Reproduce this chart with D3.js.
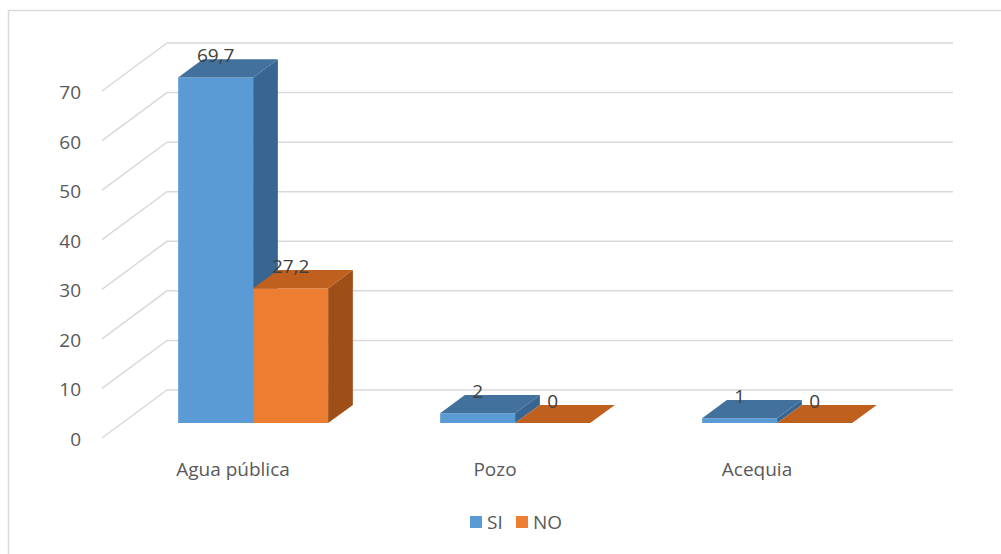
<!DOCTYPE html>
<html>
<head>
<meta charset="utf-8">
<script src="https://cdn.jsdelivr.net/npm/d3@7"></script>
<style>
  html, body { margin: 0; padding: 0; background: #fff; }
  svg { display: block; font-family: "Open Sans", "Liberation Sans", sans-serif; }
</style>
</head>
<body>
<svg id="chart" width="1001" height="554"></svg>
<script>
// chart data
const categories = ["Agua pública", "Pozo", "Acequia"];
const seriesNames = ["SI", "NO"];
const siValues = [69.7, 2, 1];
const noValues = [27.2, 0, 0];
const yTicks = [0, 10, 20, 30, 40, 50, 60, 70];
const valueLabels = { SI: ["69,7", "2", "1"], NO: ["27,2", "0", "0"] };

const colors = {
  SI: { front: "#5B9BD5", top: "#41719C", side: "#386592" },
  NO: { front: "#ED7D31", top: "#C0601F", side: "#9E4F18" },
  grid: "#D9D9D9",
  text: "#595959",
  label: "#404040"
};

const svg = d3.select("#chart");

// 3D projection: depth 0 = front of floor, depth 1 = back wall
const floorFront = 438;
const depthDX = 65;
const depthDY = -48;
const barDepth = [0.31, 0.69];

const x = d3.scaleBand().domain(categories).range([102, 888]);
const y = d3.scaleLinear().domain([0, 70]).range([0, 347]);
const xSeries = d3.scaleBand().domain(seriesNames).range([0, 150]);

const project = (px, v, d) => [px + d * depthDX, floorFront - y(v) + d * depthDY];

// outer border (only left and top visible in the original)
svg.append("rect")
  .attr("x", 8.5).attr("y", 10.5)
  .attr("width", 1100).attr("height", 700)
  .attr("fill", "none")
  .attr("stroke", "#D9D9D9")
  .attr("stroke-width", 1.5);

// gridlines: side wall diagonal + back wall line
const grid = svg.append("g").attr("class", "grid");
yTicks.forEach((t) => {
  const a = project(x.range()[0], t, 0);
  const b = project(x.range()[0], t, 1);
  const c = project(x.range()[1], t, 1);
  grid.append("path")
    .attr("d", d3.line()([a, b, c]))
    .attr("fill", "none")
    .attr("stroke", colors.grid)
    .attr("stroke-width", 1.5);
});

// y axis labels
svg.append("g")
  .selectAll("text")
  .data(yTicks)
  .join("text")
  .attr("x", 81)
  .attr("y", (d) => project(0, d, 0)[1] + 1)
  .attr("text-anchor", "end")
  .attr("dominant-baseline", "central")
  .attr("font-size", 19)
  .attr("fill", colors.text)
  .text((d) => d);

// category labels
svg.append("g")
  .selectAll("text")
  .data(categories)
  .join("text")
  .attr("x", (d) => x(d) + x.bandwidth() / 2)
  .attr("y", 469)
  .attr("text-anchor", "middle")
  .attr("dominant-baseline", "central")
  .attr("font-size", 19)
  .attr("fill", colors.text)
  .text((d) => d);

// bars
const barData = categories.flatMap((c, i) => [
  { cat: c, series: "SI", value: siValues[i], label: valueLabels.SI[i] },
  { cat: c, series: "NO", value: noValues[i], label: valueLabels.NO[i] }
]);

const bars = svg.append("g").attr("class", "bars");
const poly = (pts) => "M" + pts.map((p) => p.join(",")).join("L") + "Z";

barData.forEach((d) => {
  const x0 = x(d.cat) + x.bandwidth() / 2 - 75 + xSeries(d.series);
  const x1 = x0 + xSeries.bandwidth();
  const [dz0, dz1] = barDepth;
  const g = bars.append("g");
  const col = colors[d.series];

  if (d.value > 0) {
    // front face
    g.append("path")
      .attr("d", poly([project(x0, 0, dz0), project(x1, 0, dz0), project(x1, d.value, dz0), project(x0, d.value, dz0)]))
      .attr("fill", col.front);
    // right side
    g.append("path")
      .attr("d", poly([project(x1, 0, dz0), project(x1, 0, dz1), project(x1, d.value, dz1), project(x1, d.value, dz0)]))
      .attr("fill", col.side);
  }
  // top face
  g.append("path")
    .attr("d", poly([project(x0, d.value, dz0), project(x1, d.value, dz0), project(x1, d.value, dz1), project(x0, d.value, dz1)]))
    .attr("fill", col.top);
});

// value labels
barData.forEach((d) => {
  const x0 = x(d.cat) + x.bandwidth() / 2 - 75 + xSeries(d.series);
  const cx = project(x0 + xSeries.bandwidth() / 2, d.value, barDepth[0])[0];
  const ty = project(0, d.value, barDepth[1])[1];
  svg.append("text")
    .attr("x", cx)
    .attr("y", ty - 4)
    .attr("text-anchor", "middle")
    .attr("dominant-baseline", "central")
    .attr("font-size", 19)
    .attr("fill", colors.label)
    .text(d.label);
});

// legend
const legend = svg.append("g").attr("class", "legend");
const legendX = { SI: 470, NO: 516 };
seriesNames.forEach((s) => {
  legend.append("rect")
    .attr("x", legendX[s]).attr("y", 516)
    .attr("width", 12).attr("height", 12)
    .attr("fill", colors[s].front);
  legend.append("text")
    .attr("x", legendX[s] + 17)
    .attr("y", 522)
    .attr("dominant-baseline", "central")
    .attr("font-size", 19)
    .attr("fill", colors.text)
    .text(s);
});
</script>
</body>
</html>
